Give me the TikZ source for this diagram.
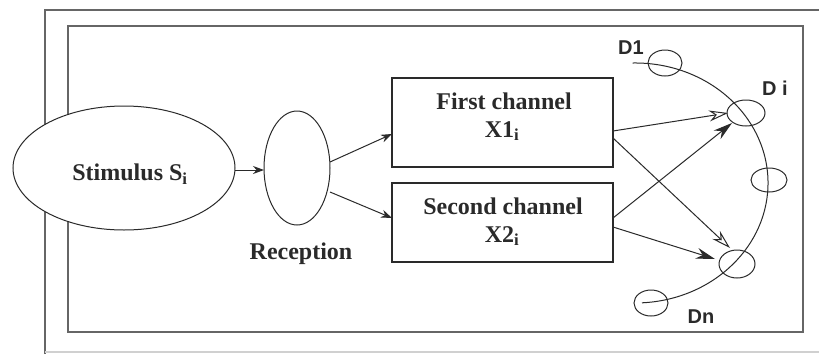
\documentclass[tikz,border=0pt]{standalone}
\usepackage{fontspec}
\setmainfont{Liberation Serif}
\newfontfamily\dlabelfont{Liberation Sans}
\usetikzlibrary{arrows.meta}
\definecolor{ink}{HTML}{2A2A2A}
\definecolor{framegray}{HTML}{666666}
\definecolor{faintgray}{HTML}{D0D0D0}
\tikzset{
  x=1pt, y=-1pt,
  frameline/.style={draw=framegray, line width=1.5pt},
  blob/.style={draw=ink, fill=white, line width=1pt},
  chanbox/.style={draw=ink, line width=1.2pt, fill=white},
  wire/.style={draw=ink, line width=1pt},
  flow/.style={wire, -{Stealth[length=11pt, width=8pt]}},
  hollowtip/.style={wire, -{Stealth[open, length=19pt, width=11pt, line width=1pt]}},
  solidtip/.style={wire, -{Stealth[length=19pt, width=11pt]}},
  maintext/.style={font=\bfseries\fontsize{24}{28}\selectfont, text=ink, inner sep=0pt},
  dtext/.style={font=\dlabelfont\bfseries\fontsize{20}{24}\selectfont, text=ink, inner sep=0pt},
  detector/.style={draw=ink, line width=1pt},
}
\begin{document}
\begin{tikzpicture}
  % canvas
  \fill[white] (0,0) rectangle (819,354);
  \useasboundingbox (0,0) rectangle (819,354);

  % outer frame (partly cut off) and inner frame
  \draw[frameline] (45,354) -- (45,10) -- (819,10);
  \draw[draw=faintgray, line width=1.2pt] (45,352) -- (819,352);
  \draw[frameline] (68,26) rectangle (803,332);

  % stimulus and reception
  \draw[blob] (124,168) ellipse [x radius=111, y radius=62];
  \coordinate (stimE) at (235,170);
  \node[maintext] (stim) at (130,174) {Stimulus S\textsubscript{i}};
  \draw[blob] (297,168) ellipse [x radius=33, y radius=57];
  \coordinate (recW) at (264,170);
  \coordinate (recNE) at (330,162);
  \coordinate (recSE) at (330,192);
  \node[maintext] (reclabel) at (301,254) {Reception};

  % channel boxes
  \draw[chanbox] (392,78) rectangle (613,167);
  \draw[chanbox] (392,183) rectangle (613,262);
  \node[maintext] (ch1a) at (504,101) {First channel};
  \node[maintext] (ch1b) at (502,131) {X1\textsubscript{i}};
  \node[maintext] (ch2a) at (503,206) {Second channel};
  \node[maintext] (ch2b) at (502,236) {X2\textsubscript{i}};
  \coordinate (box1in) at (392,134);
  \coordinate (box2in) at (392,218);
  \coordinate (x1outA) at (613,131);
  \coordinate (x1outB) at (613,138);
  \coordinate (x2outA) at (613,218);
  \coordinate (x2outB) at (613,227);

  % detector arc
  \draw[detector] (632.7,63) arc [start angle=-91, end angle=87, x radius=133, y radius=120];

  % detectors
  \draw[detector] (665,63) ellipse [x radius=17, y radius=13];
  \draw[detector] (746,113) ellipse [x radius=19, y radius=13];
  \draw[detector] (769,180) ellipse [x radius=18, y radius=12];
  \draw[detector] (737,264) ellipse [x radius=18, y radius=14];
  \draw[detector] (651,303) ellipse [x radius=17, y radius=13];
  \coordinate (diA) at (728,113);
  \coordinate (diB) at (732,123);
  \coordinate (dnA) at (730,248);
  \coordinate (dnB) at (715,259);

  \node[dtext] (d1) at (631,48) {D1};
  \node[dtext] (di) at (775,88) {D i};
  \node[dtext] (dn) at (701,317) {Dn};

  % connectors
  \draw[flow] (stimE) -- (recW);
  \draw[flow] (recNE) -- (box1in);
  \draw[flow] (recSE) -- (box2in);
  \draw[hollowtip] (x1outA) -- (diA);
  \draw[hollowtip] (x1outB) -- (dnA);
  \draw[solidtip] (x2outA) -- (diB);
  \draw[solidtip] (x2outB) -- (dnB);
\end{tikzpicture}
\end{document}
